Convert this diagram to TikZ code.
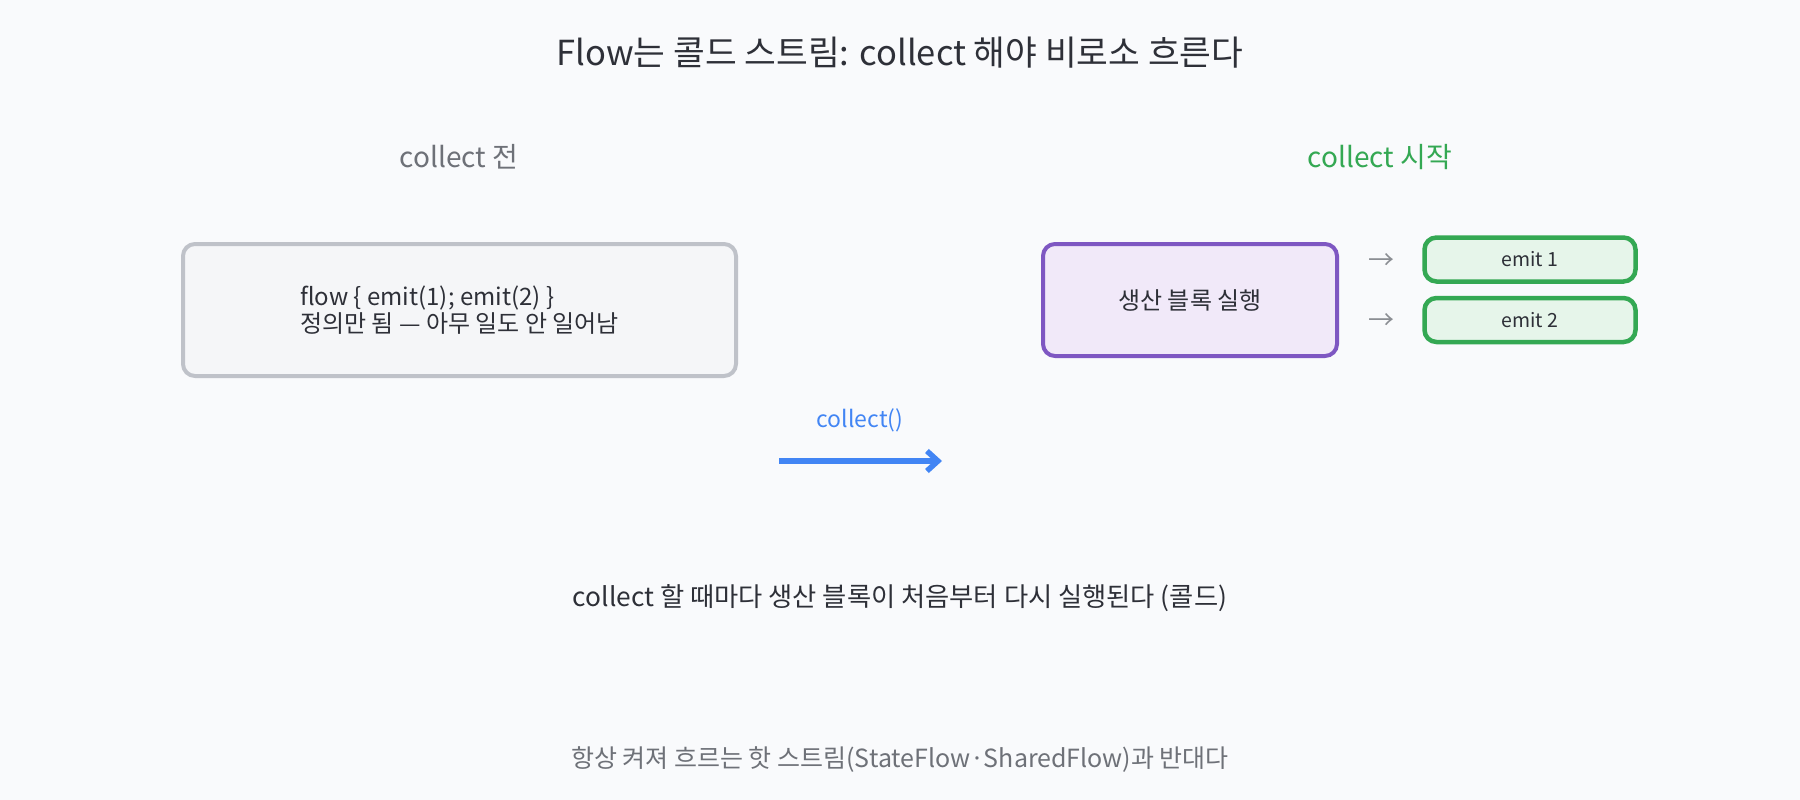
\documentclass[tikz,border=0pt]{standalone}
\usepackage{fontspec}
\setmainfont{Noto Sans CJK KR}
\usetikzlibrary{positioning,arrows.meta}

\definecolor{bgpage}{HTML}{F9FAFC}
\definecolor{ink}{HTML}{2E3038}
\definecolor{muted}{HTML}{6E7178}
\definecolor{idleline}{HTML}{BFC2C9}
\definecolor{idlefill}{HTML}{F5F6F8}
\definecolor{runline}{HTML}{7E57C2}
\definecolor{runfill}{HTML}{F1E9F9}
\definecolor{emitline}{HTML}{34A853}
\definecolor{emitfill}{HTML}{E6F5EA}
\definecolor{callblue}{HTML}{4285F4}

\begin{document}
\begin{tikzpicture}[x=1pt,y=-1pt,
block/.style={rounded corners=12pt,
  line width=4pt,
  node font=\fontsize{24}{27}\selectfont,
  text=ink
},
emitbox/.style={block,
  draw=emitline,fill=emitfill,
  line width=4.5pt,
  minimum width=211pt,minimum height=44pt,
  node distance=12pt,
  node font=\fontsize{19.5}{22}\selectfont
},
heading/.style={node font=\fontsize{28}{32}\selectfont},
tick/.style={text=muted!80,node font=\fontsize{26}{30}\selectfont}
]
\fill [bgpage] (0,0) rectangle (1800,800);
\useasboundingbox (0,0) rectangle (1800,800);

\node (title) [text=ink, font=\fontsize{34.5}{38}\selectfont] at (900,53)
  {Flow는 콜드 스트림: collect 해야 비로소 흐른다};

\node (before) [heading, text=muted] at (459,157) {collect 전};
\node (after) [heading, text=emitline] at (1380,157) {collect 시작};

\node (idle) [block, draw=idleline, fill=idlefill,
  minimum width=553pt, minimum height=132pt, align=left] at (459.5,310)
  {flow \{ emit(1); emit(2) \}\\정의만 됨 — 아무 일도 안 일어남};

\node (run) [block, draw=runline, fill=runfill,
  minimum width=294pt, minimum height=112pt] at (1190,300) {생산 블록 실행};

\node (e1) [emitbox] at (1530,259.5) {emit 1};
\node (e2) [emitbox, below=of e1] {emit 2};

\node (t1) [tick] at (1381,262) {→};
\node (t2) [tick] at (1381,322) {→};

\node (call) [text=callblue, node font=\fontsize{23}{27}\selectfont] at (860,420) {collect()};
\coordinate (from) at (779,461);
\coordinate (to) at (942,461);
\draw [callblue, line width=5.5pt, -{Straight Barb[length=11pt,width=20pt]}] (from) to (to);

\node (note) [text=ink, node font=\fontsize{26.3}{30}\selectfont] at (900,598)
  {collect 할 때마다 생산 블록이 처음부터 다시 실행된다 (콜드)};
\node (foot) [text=muted, node font=\fontsize{25}{29}\selectfont] at (900,760)
  {항상 켜져 흐르는 핫 스트림(StateFlow·SharedFlow)과 반대다};
\end{tikzpicture}
\end{document}
